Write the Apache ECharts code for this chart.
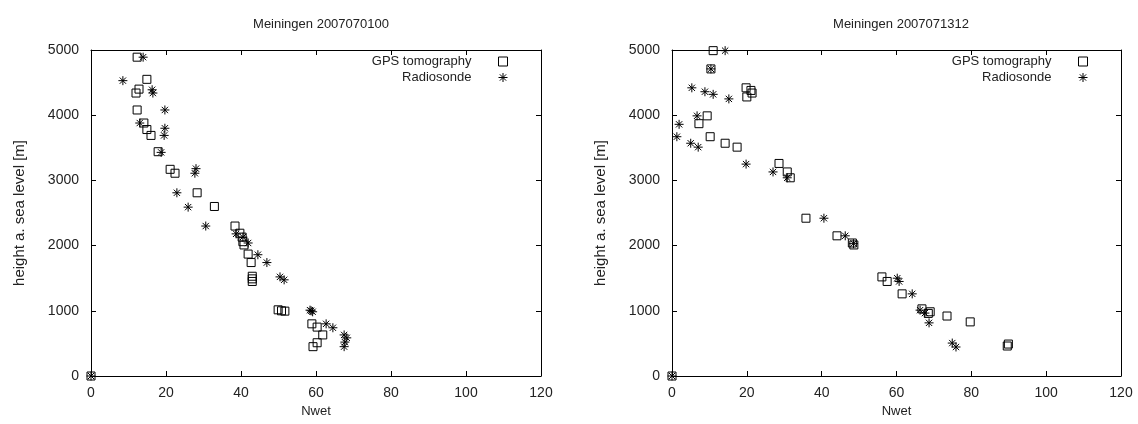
<!DOCTYPE html>
<html lang="en">
<head>
    <meta charset="UTF-8">
    <title>Meiningen Nwet profiles</title>
    <script src="https://cdn.jsdelivr.net/npm/echarts@6/dist/echarts.min.js"></script>
</head>
<body style="margin:0;background:#fff">
<div id="container" style="width:1138px;height:424px"></div>

<script type="text/javascript">
    // [Nwet, height] pairs
    var titles = ['Meiningen 2007070100', 'Meiningen 2007071312'];
    var xTicks = [0, 20, 40, 60, 80, 100, 120];
    var yTicks = [0, 1000, 2000, 3000, 4000, 5000];

    var gps1 = [
        [0, 0], [12.3, 4890], [14.9, 4550], [12.8, 4400], [12.0, 4340], [12.3, 4080],
        [14.1, 3880], [14.9, 3780], [16.0, 3690], [17.9, 3440], [21.1, 3170], [22.4, 3110],
        [28.3, 2810], [32.9, 2600], [38.4, 2300], [39.7, 2190], [40.3, 2130], [40.5, 2060],
        [40.8, 2010], [41.9, 1870], [42.7, 1740], [43.0, 1530], [43.0, 1490], [43.0, 1450],
        [49.9, 1015], [50.8, 1000], [51.7, 995], [58.9, 800], [60.3, 750], [61.8, 630],
        [60.3, 510], [59.2, 450]
    ];
    var sonde1 = [
        [0, 0], [13.9, 4890], [8.5, 4530], [16.3, 4390], [16.5, 4340], [19.7, 4080],
        [13.0, 3880], [19.7, 3800], [19.5, 3690], [18.7, 3430], [28.0, 3180], [27.7, 3110],
        [22.9, 2810], [25.9, 2590], [30.6, 2300], [38.7, 2180], [40.5, 2130], [41.9, 2040],
        [44.5, 1860], [46.9, 1740], [50.4, 1520], [51.5, 1475], [58.4, 1010], [59.1, 985],
        [58.7, 1000], [62.7, 800], [64.5, 740], [67.5, 630], [68.2, 585], [67.7, 520],
        [67.5, 450]
    ];
    var gps2 = [
        [0, 0], [11.0, 4990], [10.4, 4710], [19.8, 4420], [21.1, 4380], [21.4, 4340],
        [20.0, 4280], [9.4, 3990], [7.2, 3870], [10.2, 3670], [14.2, 3570], [17.4, 3510],
        [28.6, 3260], [30.8, 3130], [31.6, 3040], [35.8, 2420], [44.1, 2150], [48.2, 2040],
        [48.6, 2010], [56.1, 1520], [57.5, 1450], [61.5, 1260], [66.8, 1030], [69.0, 985],
        [68.5, 960], [73.5, 920], [79.7, 830], [89.6, 460], [89.9, 490]
    ];
    var sonde2 = [
        [0, 0], [14.2, 4990], [10.4, 4710], [5.3, 4420], [8.8, 4360], [11.0, 4320],
        [15.2, 4250], [6.7, 3990], [1.9, 3860], [1.3, 3670], [5.0, 3570], [7.0, 3510],
        [19.8, 3250], [27.0, 3130], [30.8, 3040], [40.6, 2420], [46.3, 2150], [48.5, 2030],
        [60.2, 1500], [60.7, 1450], [64.2, 1260], [66.3, 1010], [67.6, 965], [68.7, 815],
        [74.9, 505], [75.9, 445]
    ];

    var font = 'Liberation Sans';
    var textColor = '#222';
    var star = 'path://M0,5L10,5M5,0L5,10M1.5,1.5L8.5,8.5M8.5,1.5L1.5,8.5';
    var hollow = {color: 'rgba(0,0,0,0)', borderColor: '#000', borderWidth: 1, opacity: 1};

    var dom = document.getElementById('container');
    var myChart = echarts.init(dom, null, {renderer: 'canvas'});

    var grids = [
        {left: 91, top: 50, width: 450, height: 326},
        {left: 672, top: 50, width: 449, height: 326}
    ];

    var line = {onZero: false, lineStyle: {color: '#000', width: 1}};
    var tick = {inside: true, length: 5, lineStyle: {color: '#000'}};

    function xAxes(g) {
        var base = {
            gridIndex: g, type: 'value', min: xTicks[0], max: xTicks[xTicks.length - 1],
            interval: xTicks[1] - xTicks[0], axisLine: line, axisTick: tick,
            splitLine: {show: false}
        };
        return [
            Object.assign({}, base, {
                position: 'bottom',
                name: 'Nwet', nameLocation: 'middle', nameGap: 25,
                nameTextStyle: {color: textColor, fontFamily: font, fontSize: 13},
                axisLabel: {color: textColor, fontFamily: font, fontSize: 14, margin: 10}
            }),
            Object.assign({}, base, {position: 'top', axisLabel: {show: false}})
        ];
    }

    function yAxes(g) {
        var base = {
            gridIndex: g, type: 'value', min: yTicks[0], max: yTicks[yTicks.length - 1],
            interval: yTicks[1] - yTicks[0], axisLine: line, axisTick: tick,
            splitLine: {show: false}
        };
        return [
            Object.assign({}, base, {
                position: 'left',
                name: 'height a. sea level [m]', nameLocation: 'middle', nameGap: 64,
                nameTextStyle: {color: textColor, fontFamily: font, fontSize: 15},
                axisLabel: {
                    color: textColor, fontFamily: font, fontSize: 14, margin: 12,
                    formatter: function (v) { return String(v); }
                }
            }),
            Object.assign({}, base, {position: 'right', axisLabel: {show: false}})
        ];
    }

    function scatter(name, data, g, symbol) {
        return {
            name: name, type: 'scatter', xAxisIndex: g * 2, yAxisIndex: g * 2,
            data: data, symbol: symbol, symbolSize: symbol === 'rect' ? 8 : 9,
            itemStyle: hollow,
            emphasis: {disabled: true},
            silent: true
        };
    }

    function legend(name, top, right) {
        return {
            data: [name], top: top, right: right, padding: 0, orient: 'vertical', align: 'right',
            itemWidth: 9, itemHeight: 9, selectedMode: false, itemStyle: hollow,
            textStyle: {color: textColor, fontFamily: font, fontSize: 13, padding: [0, 22, 0, 0]}
        };
    }

    var option = {
        animation: false,
        title: [
            {text: titles[0], left: 316, top: 13, textAlign: 'center',
                textStyle: {color: textColor, fontFamily: font, fontSize: 13, fontWeight: 'normal'}},
            {text: titles[1], left: 896, top: 13, textAlign: 'center',
                textStyle: {color: textColor, fontFamily: font, fontSize: 13, fontWeight: 'normal'}}
        ],
        grid: grids,
        xAxis: xAxes(0).concat(xAxes(1)),
        yAxis: yAxes(0).concat(yAxes(1)),
        legend: [
            legend('GPS tomography', 55, 1138 - 508),
            legend('Radiosonde', 71, 1138 - 508),
            legend('GPS tomography', 55, 1138 - 1088),
            legend('Radiosonde', 71, 1138 - 1088)
        ],
        series: [
            scatter('GPS tomography', gps1, 0, 'rect'),
            scatter('Radiosonde', sonde1, 0, star),
            scatter('GPS tomography', gps2, 1, 'rect'),
            scatter('Radiosonde', sonde2, 1, star)
        ]
    };

    myChart.setOption(option);
    window.addEventListener('resize', myChart.resize);
</script>
</body>
</html>
